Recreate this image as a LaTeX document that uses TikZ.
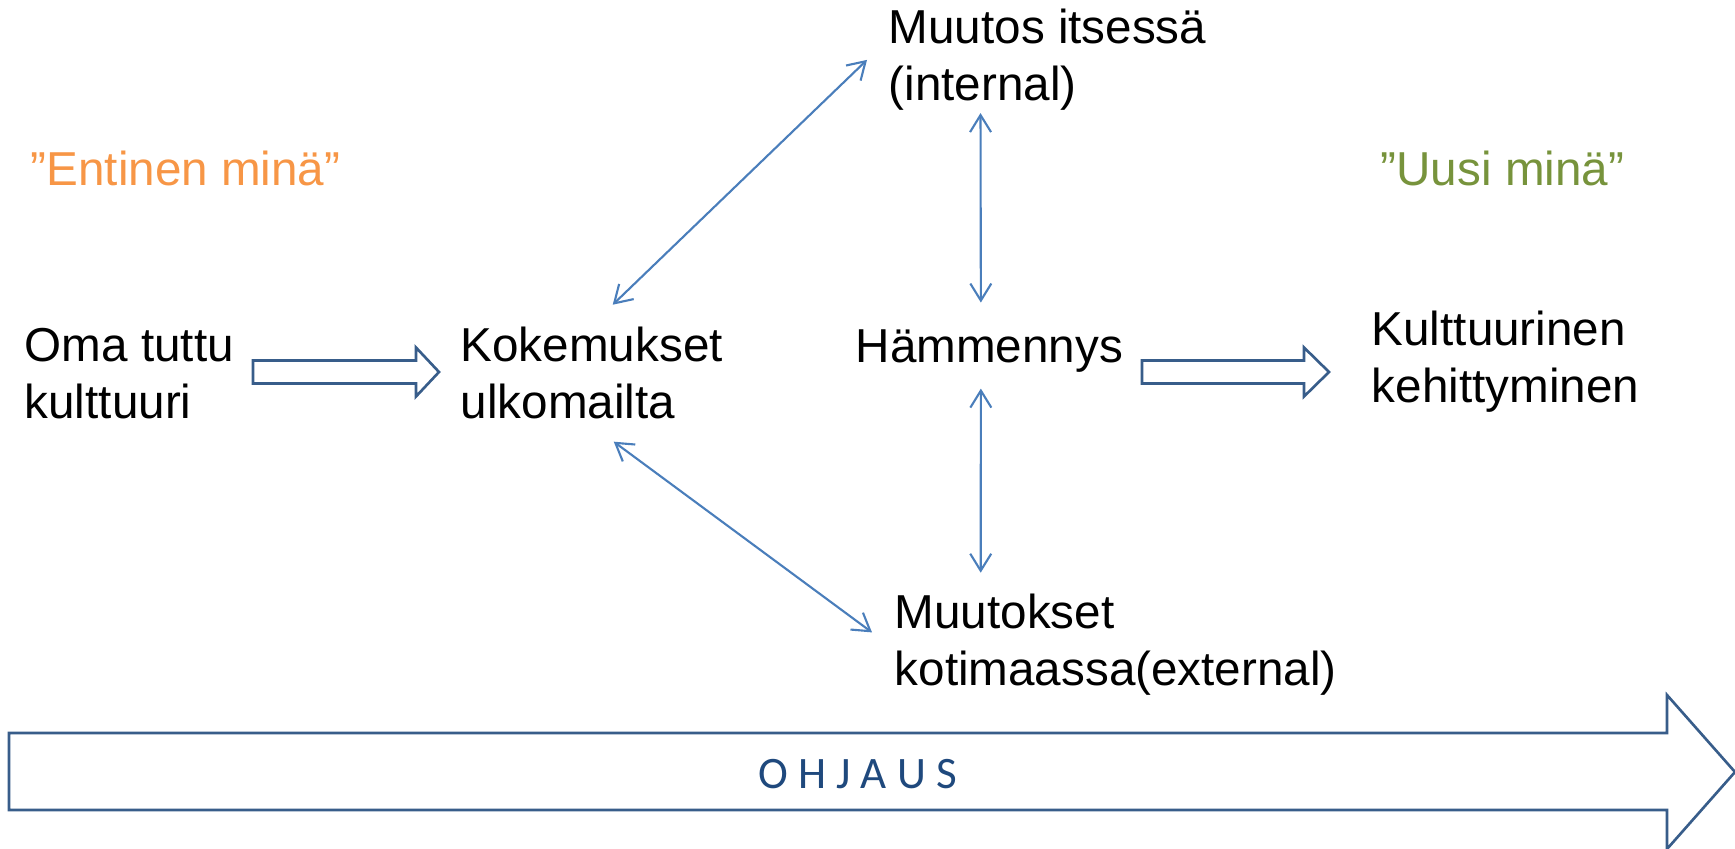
\documentclass[tikz,border=0pt]{standalone}
\usepackage{fontspec}
\setmainfont{Liberation Sans}
\newfontfamily\ohjausfont{Carlito}
\usetikzlibrary{arrows.meta}
\definecolor{lineblue}{HTML}{4A7EBB}
\definecolor{edgeblue}{HTML}{385D8A}
\definecolor{textblue}{HTML}{1F497D}
\definecolor{oldorange}{HTML}{F79646}
\definecolor{newgreen}{HTML}{77933C}

\begin{document}
\begin{tikzpicture}[x =1cm ,y =1cm ,
    txt/.style ={inner sep =0pt ,anchor =base west ,align =left ,
    font =\fontsize{13.55}{16.1}\selectfont},
    link/.style ={{Straight Barb[length=1.7mm,width=2.1mm]}-{Straight Barb[length=1.7mm,width=2.1mm]} ,
    lineblue ,line width =0.6pt},
    blockarrow/.style ={draw =edgeblue ,line width =0.75pt ,fill =white ,line join =miter}]
    \useasboundingbox (0,0) rectangle (17.35,-8.48);

    % big arrow along the bottom
    \draw[blockarrow] (0.09,-7.33) -- (16.67,-7.33) -- (16.67,-6.95) -- (17.35,-7.72)
      -- (16.67,-8.49) -- (16.67,-8.10) -- (0.09,-8.10) -- cycle;
    \node[inner sep =0pt ,anchor =base ,text =textblue ,font =\ohjausfont\fontsize{12.8}{15}\selectfont]
      (ohjaus) at (8.575,-7.88) {O H J A U S};

    \node[txt ,text =oldorange] (entinen) at (0.30,-1.85) {”Entinen minä”};
    \node[txt ,text =newgreen] (uusi) at (13.80,-1.85) {”Uusi minä”};

    % base of a two-line node is its last line
    \node[txt] (oma) at (0.24,-4.185) {Oma tuttu\\kulttuuri};
    \node[txt] (koke) at (4.60,-4.185) {Kokemukset\\ulkomailta};
    \node[txt] (muutos) at (8.88,-1.005) {Muutos itsessä\\(internal)};
    \node[txt] (hamm) at (8.55,-3.62) {Hämmennys};
    \node[txt] (kotim) at (8.94,-6.855) {Muutokset\\kotimaassa(external)};
    \node[txt] (kult) at (13.71,-4.025) {Kulttuurinen\\kehittyminen};

    % block arrows
    \draw[blockarrow] (2.53,-3.605) -- (4.16,-3.605) -- (4.16,-3.475) -- (4.39,-3.72)
      -- (4.16,-3.965) -- (4.16,-3.835) -- (2.53,-3.835) -- cycle;
    \draw[blockarrow] (11.42,-3.605) -- (13.04,-3.605) -- (13.04,-3.475) -- (13.29,-3.72)
      -- (13.04,-3.965) -- (13.04,-3.835) -- (11.42,-3.835) -- cycle;

    \draw[link] ([shift={(0.21,0.22)}]koke.north) -- ([xshift=-0.21cm]muutos.west);
    \draw[link] ([shift={(0.22,-0.22)}]koke.south) -- ([shift={(-0.22,0.125)}]kotim.west);
    \draw[link] ([shift={(-0.67,-0.02)}]muutos.south) -- ([shift={(-0.085,0.26)}]hamm.north);
    \draw[link] ([shift={(-0.085,-0.16)}]hamm.south) -- ([shift={(-1.35,0.21)}]kotim.north);

\end{tikzpicture}
\end{document}
